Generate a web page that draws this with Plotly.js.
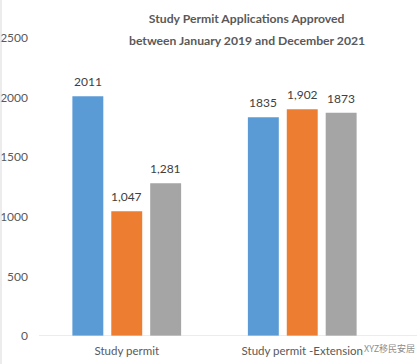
<!DOCTYPE html>
<html>
<head>
<meta charset="utf-8">
<script src="https://cdn.plot.ly/plotly-3.0.1.min.js"></script>
<style>html,body{margin:0;padding:0;background:#fff;}#chart{width:417px;height:364px;}</style>
</head>
<body>
<div id="chart"></div>
<script>
var categories = ["Study permit", "Study permit -Extension"];
var seriesNames = ["Series1", "Series2", "Series3"];
var series1 = [2011, 1835];
var series2 = [1047, 1902];
var series3 = [1281, 1873];
var labels1 = ["2011", "1835"];
var labels2 = ["1,047", "1,902"];
var labels3 = ["1,281", "1873"];
var colors = ["#5B9BD5", "#ED7D31", "#A5A5A5"];
var yTicks = [0, 500, 1000, 1500, 2000, 2500];
var titleLine1 = "Study Permit Applications Approved";
var titleLine2 = "between January 2019 and December 2021";
var watermark = "XYZ移民安居";

var font = "Lato, 'Open Sans', sans-serif";
var W = 417, H = 364;
var margin = {l: 39, r: 27, t: 38, b: 28, pad: 0};
var plotW = W - margin.l - margin.r, plotH = H - margin.t - margin.b;
var bargap = 0.335;
var vals = [series1, series2, series3];
var labs = [labels1, labels2, labels3];
var nSeries = vals.length;
var slotPx = (plotW / categories.length) * (1 - bargap) / nSeries;

var traces = vals.map(function(v, i) {
  return {
    type: "bar",
    name: seriesNames[i],
    x: categories,
    y: v,
    marker: {color: colors[i]},
    hoverinfo: "x+y"
  };
});

var annotations = [
  {text: "<b>" + titleLine2 + "</b>", xref: "paper", yref: "paper",
   x: (246.7 - margin.l) / plotW, y: 1 + (margin.t - 40) / plotH, xanchor: "center", yanchor: "middle",
   showarrow: false, font: {family: font, size: 12.2, color: "#595959"}},
  {text: watermark, xref: "paper", yref: "paper",
   x: (416 - margin.l) / plotW, y: -(348 - (H - margin.b)) / plotH, xanchor: "right", yanchor: "middle",
   showarrow: false, borderpad: 0, font: {family: "'Noto Sans CJK SC', sans-serif", size: 9, color: "#8c8c8c"}}
];
vals.forEach(function(v, i) {
  v.forEach(function(val, j) {
    annotations.push({
      x: categories[j], y: val, xref: "x", yref: "y",
      text: labs[i][j], showarrow: false,
      xanchor: "center", yanchor: "bottom",
      xshift: (i - (nSeries - 1) / 2) * slotPx, yshift: 5,
      font: {family: font, size: 12, color: "#404040"}
    });
  });
});

var layout = {
  width: W, height: H,
  margin: margin,
  paper_bgcolor: "#ffffff",
  plot_bgcolor: "#ffffff",
  showlegend: false,
  barmode: "group",
  bargap: bargap,
  bargroupgap: 0.205,
  font: {family: font, size: 12, color: "#595959"},
  title: {
    text: "<b>" + titleLine1 + "</b>",
    font: {family: font, size: 12.2, color: "#595959"},
    xref: "container", x: 246.7 / W, xanchor: "center",
    yref: "container", y: 1 - 19 / H, yanchor: "middle"
  },
  annotations: annotations,
  xaxis: {
    type: "category",
    showgrid: false, zeroline: false,
    showline: false,
    ticks: "", ticklabelstandoff: 6,
    tickfont: {family: font, size: 11.5, color: "#595959"}
  },
  yaxis: {
    range: [0, 2500],
    tickvals: yTicks,
    ticktext: yTicks.map(String),
    showgrid: false, zeroline: false, showline: false,
    ticks: "", ticklabelstandoff: 10,
    tickfont: {family: font, size: 12, color: "#595959"}
  },
  shapes: [
    {type: "line", xref: "paper", yref: "y", x0: 0, x1: (W - margin.l) / plotW, y0: 0, y1: 0,
     line: {color: "#D9D9D9", width: 1}},
    {type: "line", xref: "paper", yref: "paper", x0: -38 / plotW, x1: -38 / plotW, y0: -margin.b / plotH, y1: 1 + margin.t / plotH,
     line: {color: "#D9D9D9", width: 1}}
  ]
};

Plotly.newPlot("chart", traces, layout, {displayModeBar: false, staticPlot: true});
</script>
</body>
</html>
